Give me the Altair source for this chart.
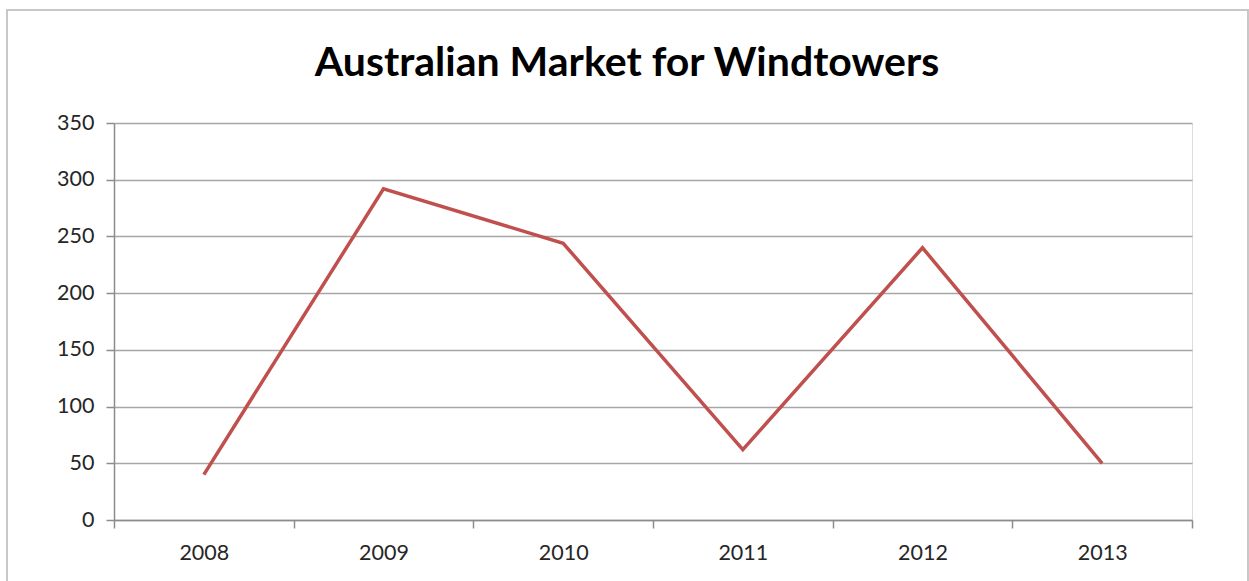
import altair as alt
import pandas as pd

years = ["2008", "2009", "2010", "2011", "2012", "2013"]
values = [40, 292, 244, 62, 240, 50]
y_ticks = [0, 50, 100, 150, 200, 250, 300, 350]
title_text = "Australian Market for Windtowers"

df = pd.DataFrame({"year": years, "value": values})

FONT = "Lato"
GRID = "#a6a6a6"
AXIS = "#8c8c8c"

base = alt.Chart(df)

line = base.mark_line(color="#c0504d", strokeWidth=3.5).encode(
    x=alt.X(
        "year:N",
        sort=years,
        scale=alt.Scale(paddingInner=0, paddingOuter=0),
        axis=alt.Axis(
            title=None,
            labelAngle=0,
            labelFont=FONT,
            labelFontSize=21.5,
            labelColor="#262626",
            labelPadding=14,
            tickBand="extent",
            tickSize=8,
            tickColor=AXIS,
            domainColor=AXIS,
            tickWidth=1.5,
            domainWidth=1.5,
            grid=False,
        ),
    ),
    y=alt.Y(
        "value:Q",
        scale=alt.Scale(domain=[0, 350], nice=False),
        axis=alt.Axis(
            title=None,
            values=y_ticks,
            labelFont=FONT,
            labelFontSize=21.5,
            labelColor="#262626",
            labelPadding=12,
            tickSize=8,
            tickColor=AXIS,
            domainColor=AXIS,
            tickWidth=1.5,
            domainWidth=1.5,
            gridColor=GRID,
            gridWidth=1.5,
        ),
    ),
)

deco = alt.Chart(pd.DataFrame({"t": [title_text]}))

border = deco.mark_rect(fill=None, stroke="#c8c8c8", strokeWidth=2).encode(
    x=alt.value(-107), x2=alt.value(1134), y=alt.value(-113), y2=alt.value(475)
)

title = deco.mark_text(
    font=FONT, fontSize=41, fontWeight="bold", color="#000000",
    align="center", baseline="alphabetic",
).encode(text="t:N", x=alt.value(513), y=alt.value(-47))

chart = (
    alt.layer(border, line, title)
    .properties(
        width=1078,
        height=397,
        autosize=alt.AutoSizeParams(type="none"),
        padding={"left": 114, "top": 123, "right": 57, "bottom": 61},
    )
    .configure_view(stroke=None)
    .configure(background="white")
)

chart.save("out.html", embed_options={"renderer": "svg", "actions": False})
